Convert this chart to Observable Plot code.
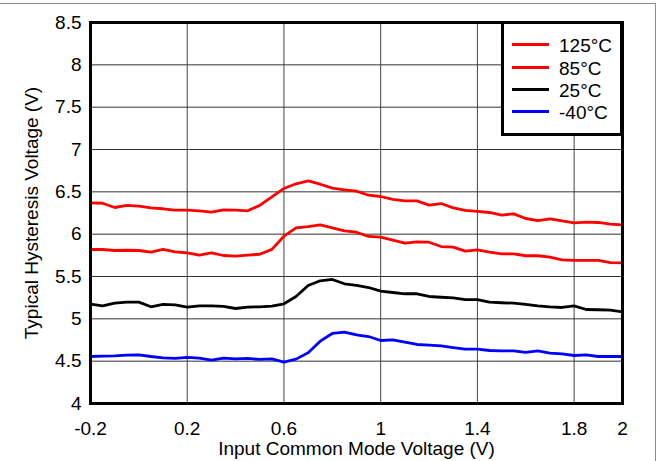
<!DOCTYPE html>
<html>
<head>
<meta charset="utf-8">
<script src="https://cdn.jsdelivr.net/npm/d3@7"></script>
<script src="https://cdn.jsdelivr.net/npm/@observablehq/plot@0.6"></script>
<style>
  body { margin: 0; background: #fff; font-family: "Liberation Sans", Arial, sans-serif; }
  #wrap { position: relative; width: 658px; height: 461px; overflow: hidden; background: #fff; }
  #outer { position: absolute; left: 0; top: 3px; width: 655px; height: 470px; border-top: 1px solid #8c8c8c; border-right: 1px solid #8c8c8c; }
  #legend { position: absolute; left: 501px; top: 21px; width: 122px; height: 115px; box-sizing: border-box; border: 3px solid #000; background: #fff; }
  .lg-line { position: absolute; left: 512px; width: 37px; height: 3px; }
  .lg-text { position: absolute; left: 559px; font-size: 19px; line-height: 1; transform: translateY(-50%); color: #000; white-space: nowrap; }
  svg { position: absolute; left: 0; top: 0; }
</style>
</head>
<body>
<div id="wrap"><div id="outer"></div></div>
<script>
// ---- data ----
const xValues = [-0.2, -0.15, -0.1, -0.05, 0, 0.05, 0.1, 0.15, 0.2, 0.25, 0.3, 0.35, 0.4, 0.45, 0.5, 0.55,
  0.6, 0.65, 0.7, 0.75, 0.8, 0.85, 0.9, 0.95, 1.0, 1.05, 1.1, 1.15, 1.2, 1.25, 1.3, 1.35, 1.4, 1.45,
  1.5, 1.55, 1.6, 1.65, 1.7, 1.75, 1.8, 1.85, 1.9, 1.95, 2.0];

const t125 = [6.37, 6.365, 6.315, 6.34, 6.33, 6.31, 6.30, 6.283, 6.283, 6.276, 6.26, 6.288, 6.283, 6.276, 6.34,
  6.44, 6.54, 6.595, 6.63, 6.59, 6.543, 6.524, 6.508, 6.46, 6.445, 6.41, 6.394, 6.394, 6.343, 6.362, 6.31,
  6.28, 6.268, 6.256, 6.225, 6.24, 6.185, 6.16, 6.18, 6.158, 6.134, 6.142, 6.138, 6.118, 6.11];

const t85 = [5.819, 5.819, 5.807, 5.81, 5.807, 5.787, 5.819, 5.79, 5.78, 5.752, 5.78, 5.748, 5.74, 5.752, 5.763,
  5.82, 5.976, 6.075, 6.09, 6.11, 6.075, 6.04, 6.023, 5.973, 5.965, 5.93, 5.893, 5.91, 5.905, 5.854, 5.846,
  5.80, 5.815, 5.787, 5.768, 5.768, 5.745, 5.745, 5.728, 5.697, 5.69, 5.69, 5.69, 5.665, 5.66];

const t25 = [5.173, 5.154, 5.185, 5.197, 5.197, 5.142, 5.17, 5.165, 5.138, 5.154, 5.154, 5.146, 5.122, 5.138, 5.142,
  5.15, 5.178, 5.264, 5.394, 5.449, 5.465, 5.414, 5.394, 5.37, 5.327, 5.311, 5.296, 5.296, 5.264, 5.255, 5.248,
  5.228, 5.228, 5.197, 5.19, 5.185, 5.17, 5.154, 5.142, 5.134, 5.154, 5.11, 5.107, 5.103, 5.083];

const tm40 = [4.555, 4.559, 4.563, 4.571, 4.575, 4.555, 4.54, 4.532, 4.544, 4.536, 4.512, 4.536, 4.528, 4.532, 4.52,
  4.528, 4.488, 4.524, 4.599, 4.736, 4.827, 4.843, 4.811, 4.791, 4.744, 4.752, 4.724, 4.697, 4.689, 4.68, 4.66,
  4.642, 4.642, 4.626, 4.622, 4.622, 4.603, 4.622, 4.595, 4.587, 4.567, 4.575, 4.555, 4.555, 4.555];

const seriesNames = ["125°C", "85°C", "25°C", "-40°C"];
const seriesColors = ["#ff0000", "#ff0000", "#000000", "#0000ff"];
const seriesValues = [t125, t85, t25, tm40];

const xTicks = [-0.2, 0.2, 0.6, 1, 1.4, 1.8, 2];
const xGrid = [0.2, 0.6, 1, 1.4, 1.8];
const yTicks = [4, 4.5, 5, 5.5, 6, 6.5, 7, 7.5, 8, 8.5];

const xLabel = "Input Common Mode Voltage (V)";
const yLabel = "Typical Hysteresis Voltage (V)";

// ---- chart ----
const font = "'Liberation Sans', Arial, sans-serif";
const lineMarks = seriesValues.map((vals, i) =>
  Plot.line(xValues.map((x, j) => ({x, v: vals[j]})), {
    x: "x", y: "v", stroke: seriesColors[i], strokeWidth: 2.8, strokeLinejoin: "round"
  })
);

const chart = Plot.plot({
  width: 658,
  height: 461,
  marginLeft: 90,
  marginRight: 36,
  marginTop: 22,
  marginBottom: 58,
  style: { fontFamily: font, fontSize: "19px", color: "#000", background: "transparent", overflow: "visible" },
  x: { domain: [-0.2, 2] },
  y: { domain: [4, 8.5] },
  marks: [
    Plot.gridX(xGrid, { stroke: "#444", strokeOpacity: 1, strokeWidth: 1 }),
    Plot.gridY(yTicks, { stroke: "#333", strokeOpacity: 1, strokeWidth: 1 }),
    Plot.axisX(xTicks, { tickSize: 0, tickPadding: 18, tickFormat: d => String(d), label: null, fontSize: 19, fill: "#000" }),
    Plot.axisY(yTicks, { tickSize: 0, tickPadding: 9, tickFormat: d => String(d), label: null, fontSize: 19, fill: "#000" }),
    ...lineMarks,
    Plot.frame({ stroke: "#000", strokeWidth: 3 }),
    Plot.text([xLabel], { text: d => d, frameAnchor: "bottom", dy: 45, lineAnchor: "middle", fontSize: 19, fill: "#000" }),
    Plot.text([yLabel], { text: d => d, frameAnchor: "left", dx: -59, rotate: -90, textAnchor: "middle", lineAnchor: "middle", fontSize: 19, fill: "#000" })
  ]
});

const wrap = document.getElementById("wrap");
wrap.appendChild(chart);

// legend
const legend = document.createElement("div");
legend.id = "legend";
wrap.appendChild(legend);
const rowY = [44, 67, 89, 111];
seriesNames.forEach((name, i) => {
  const ln = document.createElement("div");
  ln.className = "lg-line";
  ln.style.top = (rowY[i] - 1.5) + "px";
  ln.style.background = seriesColors[i];
  wrap.appendChild(ln);
  const tx = document.createElement("div");
  tx.className = "lg-text";
  tx.style.top = (rowY[i] + 1) + "px";
  tx.textContent = name;
  wrap.appendChild(tx);
});
</script>
</body>
</html>
